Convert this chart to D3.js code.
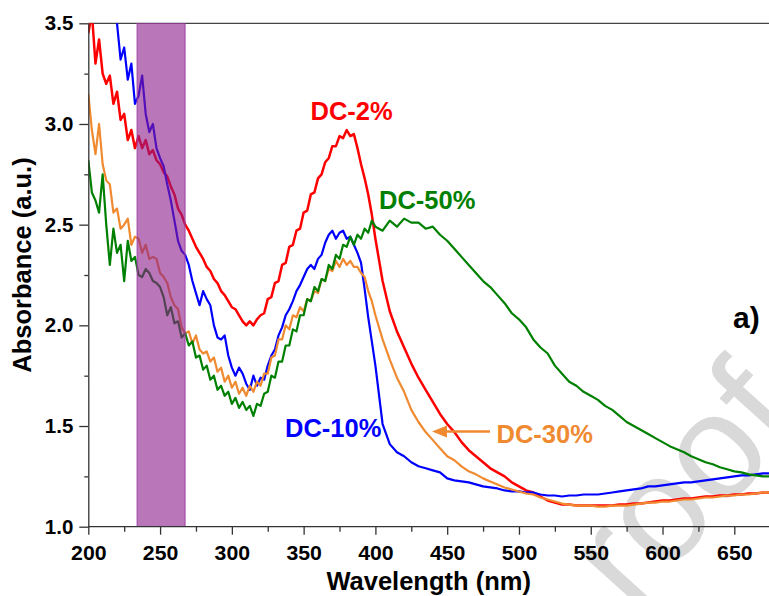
<!DOCTYPE html>
<html>
<head>
<meta charset="utf-8">
<script src="https://cdn.jsdelivr.net/npm/d3@7"></script>
<style>
  body { margin: 0; background: #fff; }
  svg text { font-family: "Liberation Sans", Arial, sans-serif; }
</style>
</head>
<body>
<svg id="chart" width="769" height="596"></svg>
<script>
// wavelength grid: 2.5 nm up to 400 nm, 5 nm after
const wavelengths = d3.range(200, 400.1, 2.5).concat(d3.range(405, 675.1, 5));

const dc2 = [
  3.45, 3.55, 3.30, 3.42, 3.25, 3.20, 3.24, 3.10, 3.16, 3.02,
  3.05, 2.92, 2.97, 2.88, 2.94, 2.88, 2.92, 2.85, 2.87, 2.82,
  2.80, 2.76, 2.74, 2.69, 2.65, 2.58, 2.55, 2.50, 2.47, 2.43,
  2.39, 2.36, 2.33, 2.29, 2.27, 2.23, 2.21, 2.17, 2.15, 2.12,
  2.09, 2.08, 2.05, 2.02, 2.00, 2.02, 2.00, 2.03, 2.05, 2.06,
  2.13, 2.14, 2.21, 2.22, 2.30, 2.31, 2.39, 2.40, 2.47, 2.48,
  2.56, 2.57, 2.65, 2.66, 2.73, 2.75, 2.81, 2.83, 2.89, 2.89,
  2.94, 2.93, 2.97, 2.94, 2.95, 2.88, 2.80, 2.73, 2.65, 2.55,
  2.43,
  2.22, 2.07, 1.97, 1.89, 1.81, 1.74, 1.68, 1.62, 1.56, 1.51,
  1.47, 1.42, 1.38, 1.35, 1.32, 1.29, 1.27, 1.25, 1.22, 1.20,
  1.18, 1.17, 1.15, 1.13, 1.12, 1.11, 1.11, 1.105, 1.105, 1.105,
  1.105, 1.105, 1.105, 1.11, 1.11, 1.115, 1.115, 1.12, 1.125, 1.13,
  1.13, 1.135, 1.14, 1.14, 1.145, 1.15, 1.15, 1.155, 1.155, 1.16,
  1.16, 1.165, 1.165, 1.17, 1.17
];

const dc10 = [
  3.70, 3.80, 3.75, 3.70, 3.72, 3.65, 3.60, 3.62, 3.50, 3.32,
  3.38, 3.22, 3.30, 3.10, 3.14, 3.24, 3.05, 2.96, 3.00, 2.88,
  2.83, 2.79, 2.70, 2.62, 2.52, 2.42, 2.37, 2.35, 2.30, 2.22,
  2.16, 2.10, 2.17, 2.13, 2.10, 2.00, 1.94, 1.93, 1.95, 1.85,
  1.79, 1.75, 1.79, 1.76, 1.71, 1.68, 1.75, 1.70, 1.74, 1.73,
  1.80, 1.85, 1.88, 1.95, 1.99, 2.05, 2.08, 2.12, 2.17, 2.20,
  2.24, 2.28, 2.30, 2.28, 2.33, 2.35, 2.41, 2.45, 2.47, 2.43,
  2.46, 2.47, 2.43, 2.44, 2.40, 2.36, 2.31, 2.18, 2.04, 1.92,
  1.80,
  1.51, 1.41, 1.37, 1.35, 1.32, 1.30, 1.29, 1.28, 1.27, 1.24,
  1.23, 1.225, 1.22, 1.21, 1.20, 1.195, 1.19, 1.18, 1.175, 1.175,
  1.17, 1.17, 1.16, 1.155, 1.155, 1.15, 1.155, 1.155, 1.16, 1.16,
  1.16, 1.165, 1.17, 1.175, 1.18, 1.185, 1.19, 1.20, 1.20, 1.205,
  1.21, 1.215, 1.22, 1.22, 1.225, 1.23, 1.235, 1.24, 1.245, 1.25,
  1.255, 1.255, 1.26, 1.265, 1.265
];

const dc30 = [
  3.15, 2.97, 2.85, 3.00, 2.80, 2.72, 2.70, 2.56, 2.58, 2.48,
  2.50, 2.53, 2.40, 2.44, 2.43, 2.36, 2.40, 2.33, 2.34, 2.33,
  2.26, 2.24, 2.21, 2.14, 2.10, 2.08, 1.99, 1.96, 1.97, 1.91,
  1.95, 1.88, 1.86, 1.87, 1.82, 1.84, 1.77, 1.79, 1.72, 1.75,
  1.69, 1.72, 1.66, 1.69, 1.65, 1.70, 1.67, 1.72, 1.70, 1.76,
  1.76, 1.84, 1.85, 1.93, 1.93, 2.00, 1.98, 2.05, 2.04, 2.09,
  2.07, 2.13, 2.12, 2.17, 2.16, 2.23, 2.22, 2.28, 2.27, 2.32,
  2.29, 2.33, 2.30, 2.32, 2.29, 2.29, 2.26, 2.24, 2.17, 2.12,
  2.05,
  1.93, 1.83, 1.74, 1.67, 1.58, 1.52, 1.47, 1.43, 1.39, 1.35,
  1.33, 1.30, 1.275, 1.26, 1.24, 1.225, 1.21, 1.195, 1.185, 1.175,
  1.165, 1.16, 1.145, 1.135, 1.125, 1.115, 1.11, 1.105, 1.105, 1.105,
  1.10, 1.10, 1.105, 1.105, 1.105, 1.11, 1.115, 1.12, 1.12, 1.125,
  1.125, 1.13, 1.135, 1.135, 1.14, 1.145, 1.145, 1.15, 1.155, 1.155,
  1.16, 1.16, 1.165, 1.17, 1.17
];

const dc50 = [
  2.82, 2.66, 2.62, 2.56, 2.75, 2.50, 2.30, 2.48, 2.36, 2.40,
  2.22, 2.42, 2.32, 2.34, 2.25, 2.24, 2.28, 2.26, 2.22, 2.21,
  2.19, 2.14, 2.05, 2.09, 2.01, 2.02, 1.94, 1.96, 1.90, 1.92,
  1.84, 1.85, 1.78, 1.80, 1.73, 1.75, 1.68, 1.70, 1.65, 1.67,
  1.61, 1.64, 1.59, 1.62, 1.58, 1.60, 1.55, 1.61, 1.60, 1.66,
  1.67, 1.75, 1.74, 1.82, 1.82, 1.90, 1.90, 1.98, 1.97, 2.05,
  2.05, 2.13, 2.12, 2.19, 2.17, 2.23, 2.22, 2.30, 2.28, 2.35,
  2.33, 2.40, 2.39, 2.44, 2.40, 2.45, 2.43, 2.48, 2.46, 2.52,
  2.49,
  2.47, 2.52, 2.49, 2.53, 2.51, 2.51, 2.48, 2.49, 2.45, 2.42,
  2.38, 2.34, 2.30, 2.26, 2.22, 2.19, 2.15, 2.11, 2.06, 2.03,
  1.99, 1.93, 1.89, 1.86, 1.80, 1.76, 1.72, 1.70, 1.67, 1.65,
  1.63, 1.60, 1.58, 1.55, 1.52, 1.50, 1.48, 1.46, 1.44, 1.42,
  1.40, 1.385, 1.37, 1.35, 1.335, 1.32, 1.31, 1.295, 1.285, 1.275,
  1.27, 1.26, 1.255, 1.25, 1.25
];

const seriesKeys = ['DC-2%', 'DC-10%', 'DC-30%', 'DC-50%'];
const seriesValues = [dc2, dc10, dc30, dc50];
const seriesColors = ['#ff0000', '#0000ff', '#f08a30', '#008000'];

const xMajorTicks = [200, 250, 300, 350, 400, 450, 500, 550, 600, 650];
const xMinorTicks = [225, 275, 325, 375, 425, 475, 525, 575, 625];
const yMajorTicks = [1.0, 1.5, 2.0, 2.5, 3.0, 3.5];
const yMinorTicks = [1.25, 1.75, 2.25, 2.75, 3.25];

// shaded band (nm)
const bandStart = 234;
const bandEnd = 267.4;

// ---------------------------------
const svg = d3.select('#chart');
const pLeft = 88.3, pRight = 769, pTop = 23.3, pBottom = 526.7;

const x = d3.scaleLinear().domain([200, 650]).range([pLeft, 734.3]);
const y = d3.scaleLinear().domain([1, 3.5]).range([pBottom, pTop]);

// watermark sits behind everything
svg.append('text')
  .attr('transform', 'translate(632,614) rotate(-48)')
  .attr('fill', '#d9d9d9')
  .style('font-size', '150px')
  .text('roof');

svg.append('defs').append('clipPath')
  .attr('id', 'plotclip')
  .append('rect')
  .attr('x', pLeft).attr('y', pTop)
  .attr('width', pRight - pLeft).attr('height', pBottom - pTop);

// top frame line
svg.append('line')
  .attr('x1', pLeft).attr('x2', pRight)
  .attr('y1', pTop).attr('y2', pTop)
  .attr('stroke', '#444').attr('stroke-width', 1.3);

const line = d3.line()
  .x((d) => x(d.w))
  .y((d) => y(d.a));

const plot = svg.append('g').attr('clip-path', 'url(#plotclip)');

seriesKeys.forEach((k, i) => {
  const pts = wavelengths.map((w, j) => ({ w, a: seriesValues[i][j] }));
  plot.append('path')
    .attr('d', line(pts))
    .attr('fill', 'none')
    .attr('stroke', seriesColors[i])
    .attr('stroke-width', i === 0 ? 2.5 : 2.2)
    .attr('stroke-linejoin', 'round');
});

// purple band over the lines
plot.append('rect')
  .attr('x', x(bandStart))
  .attr('y', pTop)
  .attr('width', x(bandEnd) - x(bandStart))
  .attr('height', pBottom - pTop)
  .attr('fill', '#8b1a8b')
  .attr('fill-opacity', 0.6)
  .attr('stroke', '#a040a8')
  .attr('stroke-width', 1);

// Axes
const xAxis = svg.append('g')
  .attr('transform', `translate(0,${pBottom})`)
  .call(d3.axisBottom(x).tickValues(xMajorTicks).tickSize(8).tickPadding(11).tickSizeOuter(0));
svg.append('g')
  .attr('transform', `translate(0,${pBottom})`)
  .call(d3.axisBottom(x).tickValues(xMinorTicks).tickSize(5).tickFormat(''))
  .select('.domain').remove();

const yAxis = svg.append('g')
  .attr('transform', `translate(${pLeft},0)`)
  .call(d3.axisLeft(y).tickValues(yMajorTicks).tickSize(9).tickPadding(6)
    .tickFormat(d3.format('.1f')).tickSizeOuter(0));
svg.append('g')
  .attr('transform', `translate(${pLeft},0)`)
  .call(d3.axisLeft(y).tickValues(yMinorTicks).tickSize(4).tickFormat(''))
  .select('.domain').remove();

// extend bottom axis line to right edge
xAxis.select('.domain').attr('d', `M${pLeft},0H${pRight}`);

svg.selectAll('.domain').attr('stroke', '#333').attr('stroke-width', 1.3);
svg.selectAll('.tick line').attr('stroke', '#333').attr('stroke-width', 1.3);
svg.selectAll('.tick text')
  .attr('fill', '#000')
  .style('font-size', '20px')
  .style('font-weight', 'bold')
  .style('font-family', '"Liberation Sans", Arial, sans-serif');
xAxis.selectAll('.tick text')
  .attr('textLength', 35.5).attr('lengthAdjust', 'spacingAndGlyphs');
yAxis.selectAll('.tick text')
  .attr('textLength', 28.5).attr('lengthAdjust', 'spacingAndGlyphs');

// Titles + Labels
svg.append('text')
  .attr('x', (pLeft + pRight) / 2)
  .attr('y', 590)
  .attr('text-anchor', 'middle')
  .style('font-size', '25.5px')
  .style('font-weight', 'bold')
  .text('Wavelength (nm)');

svg.append('text')
  .attr('transform', 'translate(31,265) rotate(-90)')
  .attr('text-anchor', 'middle')
  .style('font-size', '25.5px')
  .style('font-weight', 'bold')
  .text('Absorbance (a.u.)');

// series annotations
const labels = [
  { t: 'DC-2%', x: 310.5, y: 120, c: seriesColors[0] },
  { t: 'DC-10%', x: 285, y: 436.5, c: seriesColors[1] },
  { t: 'DC-30%', x: 496.5, y: 442.5, c: seriesColors[2] },
  { t: 'DC-50%', x: 379, y: 209, c: seriesColors[3] }
];
svg.selectAll('.lbl')
  .data(labels)
  .enter()
  .append('text')
  .attr('x', (d) => d.x)
  .attr('y', (d) => d.y)
  .attr('fill', (d) => d.c)
  .style('font-size', '25.5px')
  .style('font-weight', 'bold')
  .text((d) => d.t);

// arrow to the DC-30% curve
svg.append('line')
  .attr('x1', 490).attr('x2', 444)
  .attr('y1', 431.5).attr('y2', 431.5)
  .attr('stroke', seriesColors[2]).attr('stroke-width', 2.6);
svg.append('path')
  .attr('d', 'M432,431.5L447,425.5L447,437.5Z')
  .attr('fill', seriesColors[2]);

svg.append('text')
  .attr('x', 733)
  .attr('y', 328)
  .style('font-size', '30px')
  .style('font-weight', 'bold')
  .text('a)');
</script>
</body>
</html>
